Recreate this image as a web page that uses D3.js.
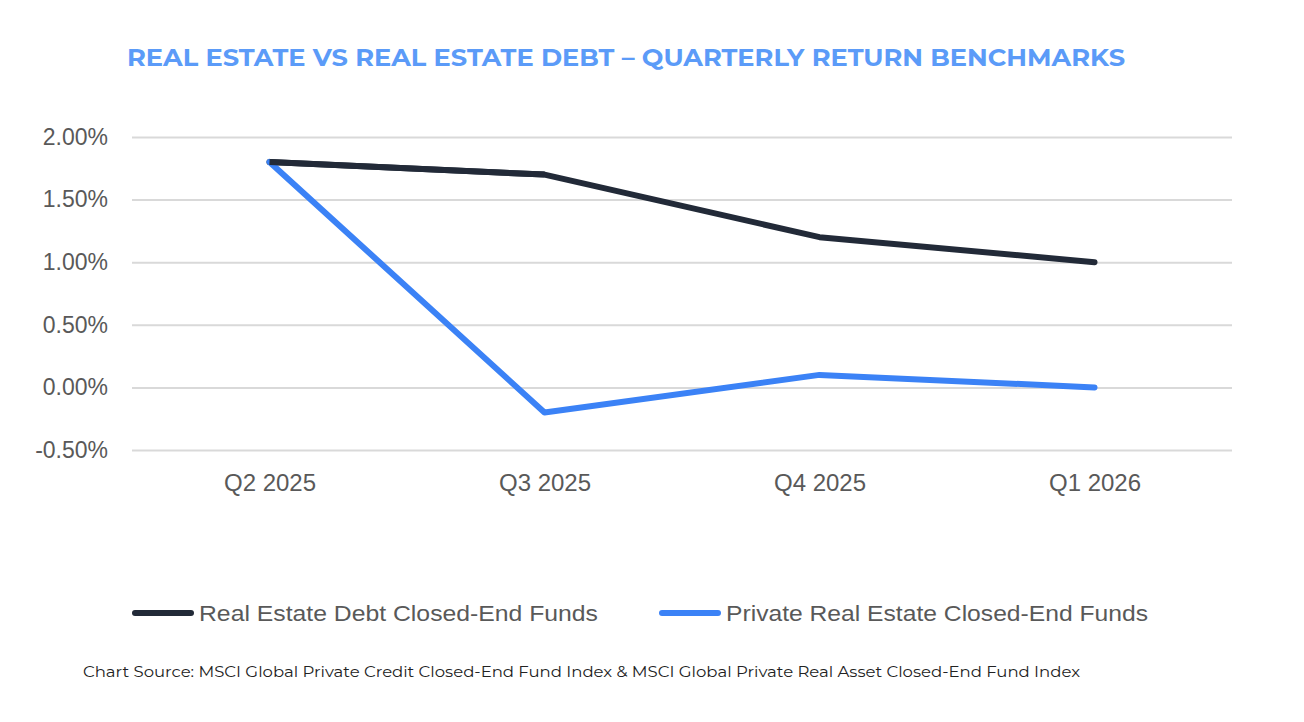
<!DOCTYPE html>
<html>
<head>
<meta charset="utf-8">
<script src="https://cdn.jsdelivr.net/npm/d3@7"></script>
<style>
  body { margin: 0; background: #fff; }
  svg { display: block; }
</style>
</head>
<body>
<svg id="chart" width="1304" height="722"></svg>
<script>
// chart data
const quarters = ["Q2 2025", "Q3 2025", "Q4 2025", "Q1 2026"];
const debtReturns = [1.80, 1.70, 1.20, 1.00];
const realEstateReturns = [1.80, -0.20, 0.10, 0.00];
const yTicks = [-0.5, 0, 0.5, 1.0, 1.5, 2.0];
const seriesNames = ["Real Estate Debt Closed-End Funds", "Private Real Estate Closed-End Funds"];

const colors = ["#222a38", "#3b82f6"];

const svg = d3.select("#chart");
const plotLeft = 132, plotRight = 1232, plotTop = 137, plotBottom = 450;

const x = d3.scalePoint().domain(quarters).range([plotLeft, plotRight]).padding(0.5);
const y = d3.scaleLinear().domain([-0.5, 2.0]).range([plotBottom, plotTop]);

// title
svg.append("text")
  .attr("x", 127).attr("y", 66)
  .attr("font-family", "Montserrat, 'Open Sans', sans-serif")
  .attr("font-weight", 700)
  .attr("font-size", 24)
  .attr("textLength", 998)
  .attr("lengthAdjust", "spacingAndGlyphs")
  .attr("fill", "#5b9bf8")
  .text("REAL ESTATE VS REAL ESTATE DEBT \u2013 QUARTERLY RETURN BENCHMARKS");

// gridlines
const yAxis = d3.axisLeft(y)
  .tickValues(yTicks)
  .tickSize(-(plotRight - plotLeft))
  .tickPadding(24)
  .tickFormat(d => d.toFixed(2) + "%");

const gy = svg.append("g")
  .attr("transform", `translate(${plotLeft},0)`)
  .call(yAxis);
gy.select(".domain").remove();
gy.selectAll(".tick line").attr("stroke", "#d9d9d9").attr("stroke-width", 2);
gy.selectAll(".tick text")
  .attr("font-family", "'Liberation Sans', Arial, sans-serif")
  .attr("font-size", 23)
  .attr("fill", "#595959");

const xAxis = d3.axisBottom(x).tickSize(0).tickPadding(24);
const gx = svg.append("g")
  .attr("transform", `translate(0,${plotBottom})`)
  .call(xAxis);
gx.select(".domain").remove();
gx.selectAll(".tick text")
  .attr("font-family", "'Liberation Sans', Arial, sans-serif")
  .attr("font-size", 24)
  .attr("fill", "#595959");

// lines
const line = d3.line()
  .x((d, i) => x(quarters[i]))
  .y(d => y(d));

[debtReturns, realEstateReturns].forEach((vals, i) => {
  svg.append("path")
    .datum(vals)
    .attr("d", line)
    .attr("fill", "none")
    .attr("stroke", colors[i])
    .attr("stroke-width", 6)
    .attr("stroke-linejoin", "round")
    .attr("stroke-linecap", "round");
});
// debt line drawn on top at the shared start point
svg.append("path")
  .datum(debtReturns.slice(0, 2))
  .attr("d", line)
  .attr("fill", "none")
  .attr("stroke", colors[0])
  .attr("stroke-width", 6)
  .attr("stroke-linecap", "butt");

// legend
const legendX = [133, 660];
const legendWidths = [399, 422];
seriesNames.forEach((name, i) => {
  const g = svg.append("g").attr("transform", `translate(${legendX[i]},613)`);
  g.append("line")
    .attr("x1", 2).attr("x2", 58)
    .attr("stroke", colors[i])
    .attr("stroke-width", 6)
    .attr("stroke-linecap", "round");
  g.append("text")
    .attr("x", 66).attr("y", 8)
    .attr("font-family", "'Liberation Sans', Arial, sans-serif")
    .attr("font-size", 22)
    .attr("textLength", legendWidths[i])
    .attr("lengthAdjust", "spacingAndGlyphs")
    .attr("fill", "#595959")
    .text(name);
});

// source note
svg.append("text")
  .attr("x", 83).attr("y", 677)
  .attr("font-family", "Montserrat, 'Open Sans', sans-serif")
  .attr("font-size", 15)
  .attr("textLength", 997)
  .attr("lengthAdjust", "spacingAndGlyphs")
  .attr("fill", "#222")
  .text("Chart Source: MSCI Global Private Credit Closed-End Fund Index & MSCI Global Private Real Asset Closed-End Fund Index");
</script>
</body>
</html>
